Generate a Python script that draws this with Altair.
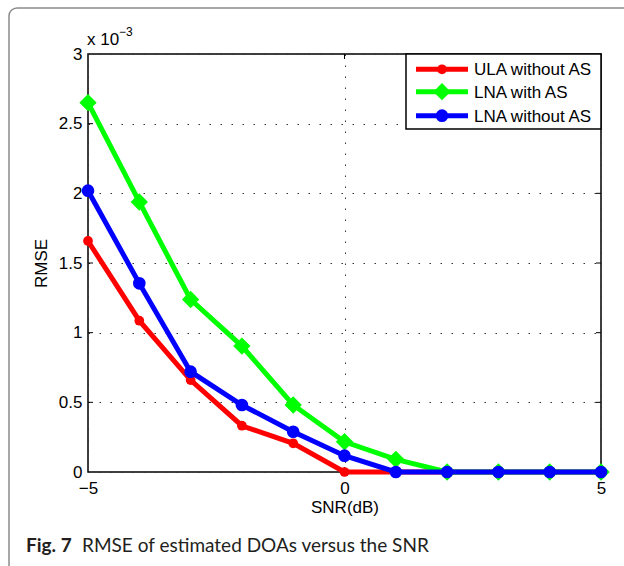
import altair as alt
import pandas as pd

# ---- data (RMSE in units of 1e-3) ----
snr = [-5, -4, -3, -2, -1, 0, 1, 2, 3, 4, 5]
ula_without_as = [1.658, 1.086, 0.660, 0.332, 0.206, 0.0, 0.0, 0.0, 0.0, 0.0, 0.0]
lna_with_as = [2.651, 1.938, 1.238, 0.904, 0.481, 0.217, 0.091, 0.0, 0.0, 0.0, 0.0]
lna_without_as = [2.019, 1.354, 0.720, 0.481, 0.289, 0.117, 0.0, 0.0, 0.0, 0.0, 0.0]

series_names = ["ULA without AS", "LNA with AS", "LNA without AS"]
series_colors = ["#ff0000", "#00ff00", "#0000ff"]
series_shapes = ["circle", "diamond", "circle"]
series_sizes = [95, 300, 160]

x_ticks = [-5, 0, 5]
y_ticks = [0, 0.5, 1, 1.5, 2, 2.5, 3]
inner_y_ticks = [0.5, 1, 1.5, 2, 2.5]
inner_x_ticks = [0]

W, H = 513, 418
FONT = "Liberation Sans"

xscale = alt.Scale(domain=[-5, 5], nice=False, zero=False)
yscale = alt.Scale(domain=[0, 3], nice=False, zero=False)

xaxis = alt.Axis(values=x_ticks, format="~g", title="SNR(dB)", grid=True, domain=False,
                 ticks=False, labelPadding=8, titlePadding=3, labelFontSize=17,
                 titleFontSize=17, labelFont=FONT, titleFont=FONT, labelColor="black",
                 titleColor="black", titleFontWeight="normal", gridColor="#333333",
                 gridDash=[1.5, 9.5], gridWidth=1, labelFlush=False)
yaxis = alt.Axis(values=y_ticks, format="~g", title="RMSE", grid=True, domain=False,
                 ticks=False, labelPadding=6, titlePadding=8, labelFontSize=17,
                 titleFontSize=17, labelFont=FONT, titleFont=FONT, labelColor="black",
                 titleColor="black", titleFontWeight="normal", gridColor="#333333",
                 gridDash=[1.5, 9.5], gridWidth=1, labelFlush=False)

layers = []

# frame around figure
frame = alt.Chart(pd.DataFrame({"a": [0]})).mark_rect(
    fillOpacity=0, stroke="#8c8c8c", strokeWidth=1.5, cornerRadius=8
).encode(x=alt.value(-79), x2=alt.value(560), y=alt.value(-46), y2=alt.value(600))
layers.append(frame)

# axes base (grid + labels)
base = alt.Chart(pd.DataFrame({"snr": snr, "v": ula_without_as})).mark_point(opacity=0).encode(
    x=alt.X("snr:Q", scale=xscale, axis=xaxis),
    y=alt.Y("v:Q", scale=yscale, axis=yaxis),
)
layers.append(base)

# inward tick marks
yt = pd.DataFrame({"t": inner_y_ticks})
xt = pd.DataFrame({"t": inner_x_ticks})
layers.append(alt.Chart(yt).mark_rule(color="black", strokeWidth=1).encode(
    y=alt.Y("t:Q", scale=yscale), x=alt.value(0), x2=alt.value(5)))
layers.append(alt.Chart(yt).mark_rule(color="black", strokeWidth=1).encode(
    y=alt.Y("t:Q", scale=yscale), x=alt.value(W - 5), x2=alt.value(W)))
layers.append(alt.Chart(xt).mark_rule(color="black", strokeWidth=1).encode(
    x=alt.X("t:Q", scale=xscale), y=alt.value(0), y2=alt.value(5)))
layers.append(alt.Chart(xt).mark_rule(color="black", strokeWidth=1).encode(
    x=alt.X("t:Q", scale=xscale), y=alt.value(H - 5), y2=alt.value(H)))

# series
for name, vals, col, shp, sz in zip(series_names,
                                    [ula_without_as, lna_with_as, lna_without_as],
                                    series_colors, series_shapes, series_sizes):
    df = pd.DataFrame({"snr": snr, "v": vals, "series": name})
    line = alt.Chart(df).mark_line(color=col, strokeWidth=5).encode(
        x=alt.X("snr:Q", scale=xscale), y=alt.Y("v:Q", scale=yscale))
    pts = alt.Chart(df).mark_point(shape=shp, filled=True, color=col, size=sz, opacity=1).encode(
        x=alt.X("snr:Q", scale=xscale), y=alt.Y("v:Q", scale=yscale))
    layers += [line, pts]

# legend box
layers.append(alt.Chart(pd.DataFrame({"a": [0]})).mark_rect(
    fill="white", stroke="black", strokeWidth=1.5
).encode(x=alt.value(318), x2=alt.value(W), y=alt.value(0), y2=alt.value(75)))
row_y = [15.3, 37.7, 61.7]
for name, col, shp, sz, ry in zip(series_names, series_colors, series_shapes, series_sizes, row_y):
    d = pd.DataFrame({"name": [name]})
    layers.append(alt.Chart(d).mark_rule(color=col, strokeWidth=5).encode(
        x=alt.value(328), x2=alt.value(380), y=alt.value(ry)))
    layers.append(alt.Chart(d).mark_point(shape=shp, filled=True, color=col, size=sz, opacity=1).encode(
        x=alt.value(354), y=alt.value(ry)))
    layers.append(alt.Chart(d).mark_text(align="left", baseline="middle", font=FONT,
                                         fontSize=17, color="black").encode(
        x=alt.value(386), y=alt.value(ry + 1), text="name:N"))

# exponent label
layers.append(alt.Chart(pd.DataFrame({"t": ["x 10"]})).mark_text(
    align="left", baseline="alphabetic", font=FONT, fontSize=17, color="black"
).encode(x=alt.value(-1), y=alt.value(-9), text="t:N"))
layers.append(alt.Chart(pd.DataFrame({"t": ["\u22123"]})).mark_text(
    align="left", baseline="alphabetic", font=FONT, fontSize=12, color="black"
).encode(x=alt.value(31), y=alt.value(-18), text="t:N"))

# caption
layers.append(alt.Chart(pd.DataFrame({"t": ["Fig. 7"]})).mark_text(
    align="left", baseline="alphabetic", font="Lato", fontSize=19, fontWeight="bold",
    color="#231f20"
).encode(x=alt.value(-62), y=alt.value(498), text="t:N"))
layers.append(alt.Chart(pd.DataFrame({"t": ["RMSE of estimated DOAs versus the SNR"]})).mark_text(
    align="left", baseline="alphabetic", font="Lato", fontSize=19, color="#231f20"
).encode(x=alt.value(-6), y=alt.value(498), text="t:N"))

chart = alt.layer(*layers).properties(
    width=W, height=H,
    autosize=alt.AutoSizeParams(type="none"),
    padding={"left": 88, "top": 54, "right": 23, "bottom": 94},
    background="white",
).configure_view(stroke="black", strokeWidth=1.5)

chart.save("out.html", embed_options={"renderer": "svg", "actions": False})
